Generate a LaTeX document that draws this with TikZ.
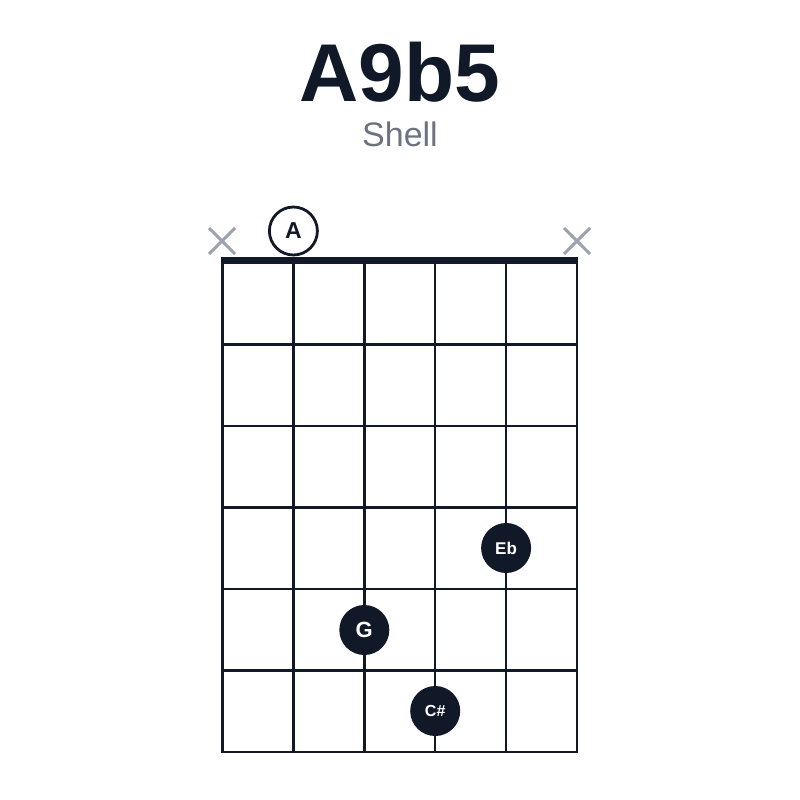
\documentclass[tikz,border=0pt]{standalone}
\usepackage{fontspec}
\setmainfont{Liberation Sans}
\definecolor{ink}{HTML}{111827}
\definecolor{mute}{HTML}{9CA3AF}
\definecolor{sub}{HTML}{6B7280}
\begin{document}
\begin{tikzpicture}[x=1pt,y=-1pt,
		dot/.style={circle,fill=ink,text=white,minimum size=50pt,inner sep=0pt},
		open/.style={circle,draw=ink,line width=2.8pt,fill=white,text=ink,minimum size=48pt,inner sep=0pt}]
		\useasboundingbox (0,0) rectangle (800,800);
		\node[anchor=base,text=ink,font=\fontsize{82}{82}\selectfont\bfseries] (title) at (400,101) {A9b5};
		\node[anchor=base,text=sub,font=\fontsize{34}{34}\selectfont] (kind) at (400,146) {Shell};
		%strings
		\foreach \s in {0,...,5}
			\draw[ink,line width=2.5pt] (222.5+70.9*\s,263) -- (222.5+70.9*\s,752);
		%frets
		\foreach \f in {1,...,6}
			\draw[ink,line width=2.5pt] (221.3,263+81.5*\f) -- (578.2,263+81.5*\f);
		\fill[ink] (221.3,257) rectangle (578.2,264);
		%muted strings
		\draw[mute,line width=3pt] (209,228) -- (235,254) (209,254) -- (235,228);
		\draw[mute,line width=3pt] (564,228) -- (590,254) (564,254) -- (590,228);
		\node[open,font=\fontsize{23}{23}\selectfont\bfseries] (A) at (293.4,231) {A};
		\node[dot,font=\fontsize{17}{17}\selectfont\bfseries] (Eb) at (506.1,548) {Eb};
		\node[dot,font=\fontsize{22}{22}\selectfont\bfseries] (G) at (364.3,630) {G};
		\node[dot,font=\fontsize{16}{16}\selectfont\bfseries] (Cs) at (435.2,711) {C\#};
	\end{tikzpicture}
\end{document}
